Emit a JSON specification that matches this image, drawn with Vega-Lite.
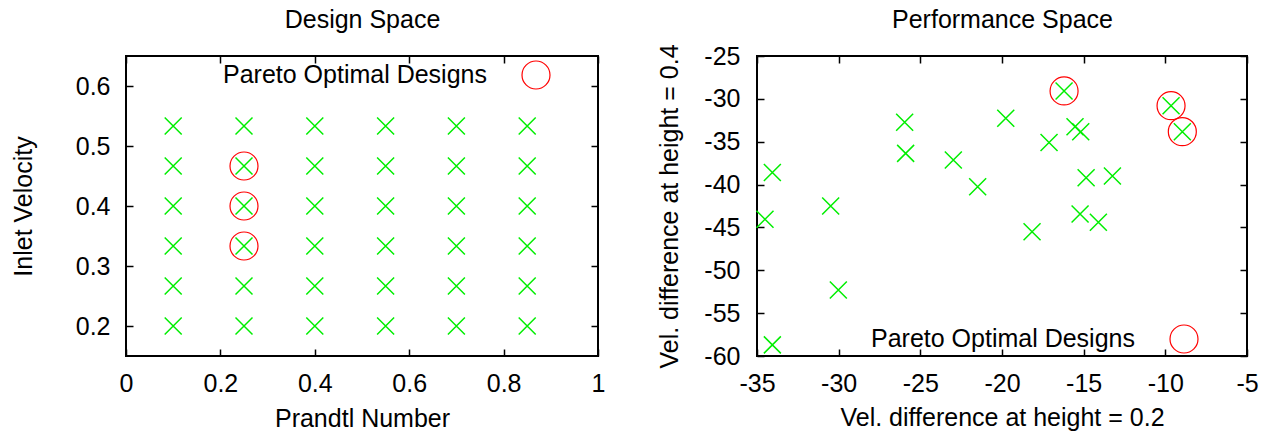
{
  "$schema": "https://vega.github.io/schema/vega-lite/v6.json",
  "autosize": {"type": "pad"},
  "padding": {"left": 10, "top": 6, "right": 5, "bottom": 5},
  "config": {
    "font": "Liberation Sans",
    "view": {"stroke": "#000000", "strokeWidth": 2},
    "axis": {
      "domain": false, "grid": false, "labelFlush": false, "labelOverlap": false,
      "tickColor": "#000000", "tickWidth": 1.5, "tickSize": -7,
      "labelFont": "Liberation Sans", "labelFontSize": 25, "labelColor": "#000000",
      "titleFont": "Liberation Sans", "titleFontSize": 25, "titleFontWeight": "normal", "titleColor": "#000000"
    }
  },
  "datasets": {
    "design": [
      {"prandtl": 0.1, "velocity": 0.2}, {"prandtl": 0.1, "velocity": 0.2667}, {"prandtl": 0.1, "velocity": 0.3333}, {"prandtl": 0.1, "velocity": 0.4}, {"prandtl": 0.1, "velocity": 0.4667}, {"prandtl": 0.1, "velocity": 0.5333},
      {"prandtl": 0.25, "velocity": 0.2}, {"prandtl": 0.25, "velocity": 0.2667}, {"prandtl": 0.25, "velocity": 0.3333}, {"prandtl": 0.25, "velocity": 0.4}, {"prandtl": 0.25, "velocity": 0.4667}, {"prandtl": 0.25, "velocity": 0.5333},
      {"prandtl": 0.4, "velocity": 0.2}, {"prandtl": 0.4, "velocity": 0.2667}, {"prandtl": 0.4, "velocity": 0.3333}, {"prandtl": 0.4, "velocity": 0.4}, {"prandtl": 0.4, "velocity": 0.4667}, {"prandtl": 0.4, "velocity": 0.5333},
      {"prandtl": 0.55, "velocity": 0.2}, {"prandtl": 0.55, "velocity": 0.2667}, {"prandtl": 0.55, "velocity": 0.3333}, {"prandtl": 0.55, "velocity": 0.4}, {"prandtl": 0.55, "velocity": 0.4667}, {"prandtl": 0.55, "velocity": 0.5333},
      {"prandtl": 0.7, "velocity": 0.2}, {"prandtl": 0.7, "velocity": 0.2667}, {"prandtl": 0.7, "velocity": 0.3333}, {"prandtl": 0.7, "velocity": 0.4}, {"prandtl": 0.7, "velocity": 0.4667}, {"prandtl": 0.7, "velocity": 0.5333},
      {"prandtl": 0.85, "velocity": 0.2}, {"prandtl": 0.85, "velocity": 0.2667}, {"prandtl": 0.85, "velocity": 0.3333}, {"prandtl": 0.85, "velocity": 0.4}, {"prandtl": 0.85, "velocity": 0.4667}, {"prandtl": 0.85, "velocity": 0.5333}
    ],
    "design_pareto": [
      {"prandtl": 0.25, "velocity": 0.3333}, {"prandtl": 0.25, "velocity": 0.4}, {"prandtl": 0.25, "velocity": 0.4667}
    ],
    "perf": [
      {"v02": -34.51, "v04": -44.05}, {"v02": -34.06, "v04": -38.6}, {"v02": -34.06, "v04": -58.7},
      {"v02": -30.49, "v04": -42.5}, {"v02": -30.02, "v04": -52.3}, {"v02": -25.96, "v04": -32.74},
      {"v02": -25.9, "v04": -36.36}, {"v02": -22.98, "v04": -37.13}, {"v02": -21.49, "v04": -40.25},
      {"v02": -19.77, "v04": -32.27}, {"v02": -18.16, "v04": -45.5}, {"v02": -17.12, "v04": -35.1},
      {"v02": -16.2, "v04": -29.08}, {"v02": -15.53, "v04": -33.25}, {"v02": -15.18, "v04": -33.83},
      {"v02": -14.85, "v04": -39.2}, {"v02": -15.22, "v04": -43.43}, {"v02": -14.1, "v04": -44.4},
      {"v02": -13.24, "v04": -39.0}, {"v02": -9.65, "v04": -30.8}, {"v02": -8.96, "v04": -33.83}
    ],
    "perf_pareto": [
      {"v02": -16.2, "v04": -29.08}, {"v02": -9.65, "v04": -30.8}, {"v02": -8.96, "v04": -33.83}
    ]
  },
  "bounds": "flush",
  "spacing": 159,
  "resolve": {
    "scale": {"x": "independent", "y": "independent", "color": "independent"},
    "legend": {"color": "independent"}
  },
  "hconcat": [
    {
      "width": 472,
      "height": 300,
      "resolve": {"axis": {"x": "independent", "y": "independent"}},
      "layer": [
        {
          "data": {"name": "design"},
          "mark": {"type": "point", "shape": "M-1,-1L1,1M-1,1L1,-1", "filled": false, "stroke": "#00ee00", "strokeWidth": 1.5, "size": 289, "opacity": 1},
          "encoding": {
            "x": {"field": "prandtl", "type": "quantitative",
              "scale": {"domain": [0, 1], "nice": false, "zero": false},
              "axis": {"orient": "bottom", "values": [0, 0.2, 0.4, 0.6, 0.8, 1], "labelExpr": "'' + datum.value", "labelPadding": 22,
                "title": "Prandtl Number", "titleX": 236, "titleY": 70, "titleBaseline": "alphabetic"}},
            "y": {"field": "velocity", "type": "quantitative",
              "scale": {"domain": [0.15, 0.65], "nice": false, "zero": false},
              "axis": {"orient": "left", "values": [0.2, 0.3, 0.4, 0.5, 0.6], "labelExpr": "'' + datum.value", "labelPadding": 23,
                "title": "Inlet Velocity", "titleAngle": 270, "titleX": -95, "titleY": 150, "titleAlign": "center", "titleBaseline": "alphabetic"}}
          }
        },
        {
          "data": {"name": "design_pareto"},
          "mark": {"type": "point", "shape": "circle", "filled": false, "strokeWidth": 1.2, "size": 784, "opacity": 1},
          "encoding": {
            "x": {"field": "prandtl", "type": "quantitative",
              "axis": {"orient": "top", "values": [0, 0.2, 0.4, 0.6, 0.8, 1], "labels": false,
                "title": "Design Space", "titleX": 236, "titleY": -29, "titleBaseline": "alphabetic"}},
            "y": {"field": "velocity", "type": "quantitative",
              "axis": {"orient": "right", "values": [0.2, 0.3, 0.4, 0.5, 0.6], "labels": false, "title": null}},
            "color": {"datum": "Pareto Optimal Designs", "type": "nominal",
              "scale": {"range": ["#ff0000"]},
              "legend": {"title": null, "orient": "none", "legendX": 395, "legendY": 4, "padding": 0,
                "symbolType": "circle", "symbolSize": 784, "symbolStrokeWidth": 1.2, "symbolFillColor": "transparent",
                "labelAlign": "right", "labelOffset": -64, "labelFont": "Liberation Sans", "labelFontSize": 25, "labelColor": "#000000", "labelLimit": 600}}
          }
        }
      ]
    },
    {
      "width": 490,
      "height": 300,
      "resolve": {"axis": {"x": "independent", "y": "independent"}},
      "layer": [
        {
          "data": {"name": "perf"},
          "mark": {"type": "point", "shape": "M-1,-1L1,1M-1,1L1,-1", "filled": false, "stroke": "#00ee00", "strokeWidth": 1.5, "size": 289, "opacity": 1},
          "encoding": {
            "x": {"field": "v02", "type": "quantitative",
              "scale": {"domain": [-35, -5], "nice": false, "zero": false},
              "axis": {"orient": "bottom", "values": [-35, -30, -25, -20, -15, -10, -5], "labelExpr": "'' + datum.value", "labelPadding": 22,
                "title": "Vel. difference at height = 0.2", "titleX": 245, "titleY": 69, "titleBaseline": "alphabetic"}},
            "y": {"field": "v04", "type": "quantitative",
              "scale": {"domain": [-60, -25], "nice": false, "zero": false},
              "axis": {"orient": "left", "values": [-60, -55, -50, -45, -40, -35, -30, -25], "labelExpr": "'' + datum.value", "labelPadding": 24,
                "title": "Vel. difference at height = 0.4", "titleAngle": 270, "titleX": -80, "titleY": 150, "titleAlign": "center", "titleBaseline": "alphabetic"}}
          }
        },
        {
          "data": {"name": "perf_pareto"},
          "mark": {"type": "point", "shape": "circle", "filled": false, "strokeWidth": 1.2, "size": 784, "opacity": 1},
          "encoding": {
            "x": {"field": "v02", "type": "quantitative",
              "axis": {"orient": "top", "values": [-35, -30, -25, -20, -15, -10, -5], "labels": false,
                "title": "Performance Space", "titleX": 245, "titleY": -29, "titleBaseline": "alphabetic"}},
            "y": {"field": "v04", "type": "quantitative",
              "axis": {"orient": "right", "values": [-60, -55, -50, -45, -40, -35, -30, -25], "labels": false, "title": null}},
            "color": {"datum": "Pareto Optimal Designs", "type": "nominal",
              "scale": {"range": ["#ff0000"]},
              "legend": {"title": null, "orient": "none", "legendX": 412, "legendY": 268, "padding": 0,
                "symbolType": "circle", "symbolSize": 784, "symbolStrokeWidth": 1.2, "symbolFillColor": "transparent",
                "labelAlign": "right", "labelOffset": -64, "labelFont": "Liberation Sans", "labelFontSize": 25, "labelColor": "#000000", "labelLimit": 600}}
          }
        }
      ]
    }
  ]
}
